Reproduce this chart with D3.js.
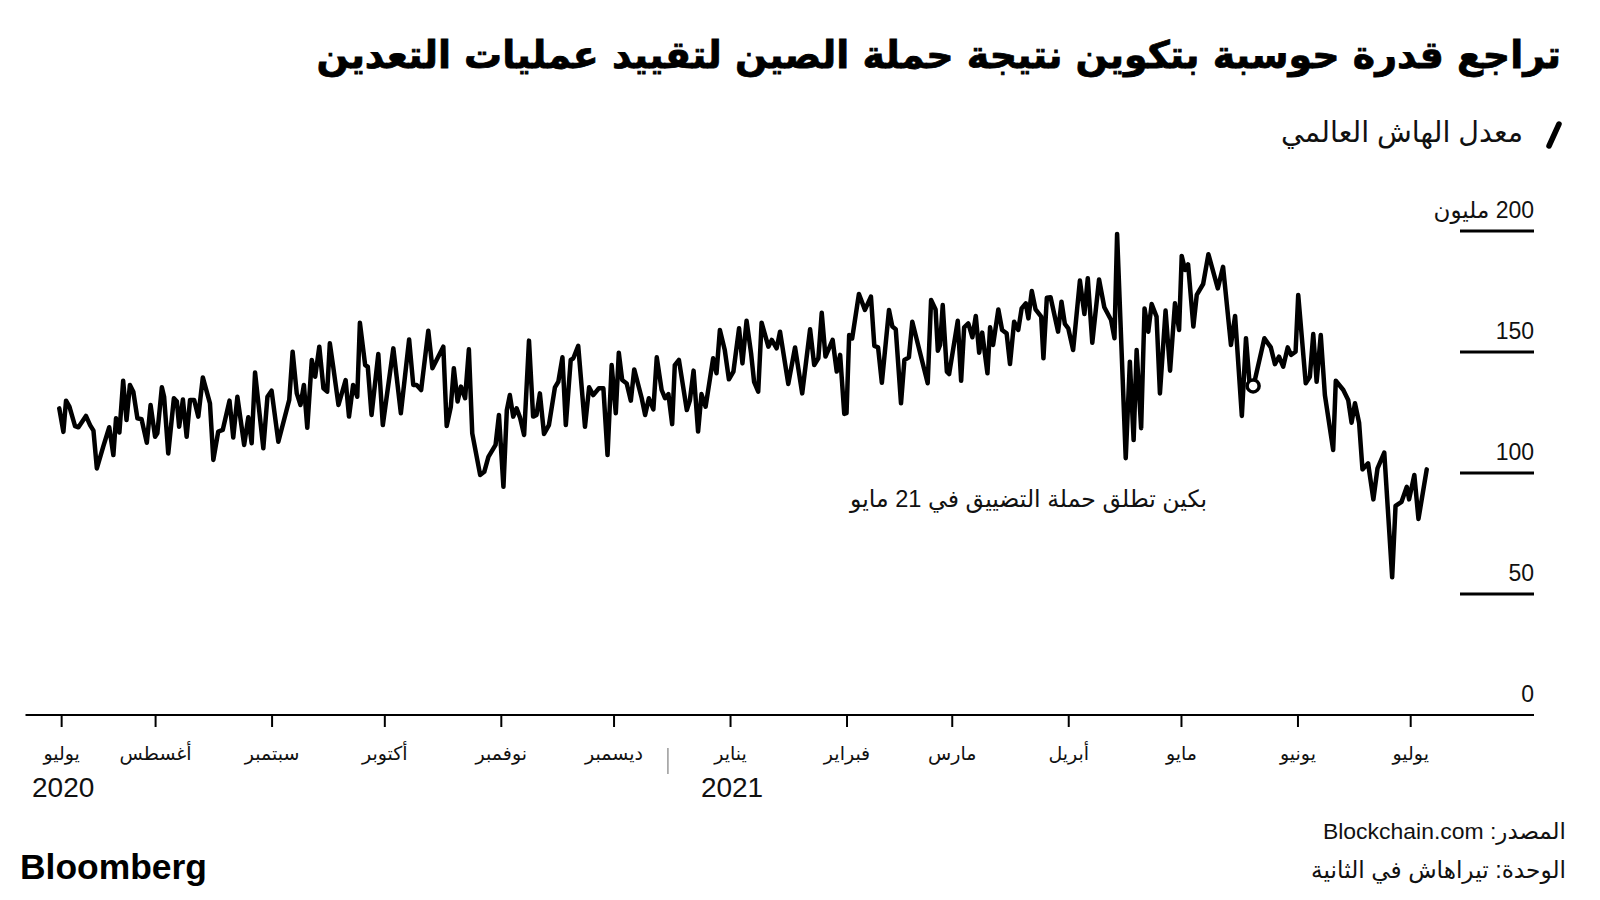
<!DOCTYPE html>
<html><head><meta charset="utf-8">
<script src="https://cdn.jsdelivr.net/npm/d3@7"></script>
<style>
body{margin:0;background:#fff;}
svg{display:block;}
text{font-family:"Liberation Sans","DejaVu Sans",sans-serif;fill:#1a1a1a;}
</style></head><body>
<svg id="c" width="1600" height="900"></svg>
<script>
// ---------- DATA ----------
const titleText = "تراجع قدرة حوسبة بتكوين نتيجة حملة الصين لتقييد عمليات التعدين";
const legendText = "معدل الهاش العالمي";
const sourceText = "المصدر: Blockchain.com";
const unitText = "الوحدة: تيراهاش في الثانية";
const annotationText = "بكين تطلق حملة التضييق في 21 مايو";
const annotationDate = "2021-05-21";
const annotationValue = 136;

const baseDate = "2020-07-01";
// days after baseDate and hash rate (million TH/s)
const dayOffsets = [
 5.5,6.6,7.3,8.2,9.7,10.6,12.6,13.7,14.6,15.5,17.2,18.8,19.9,20.6,21.5,22.5,23.4,24.3,25.2,26.3,
 27.4,28.8,29.8,31.0,31.6,32.8,33.4,34.5,36.0,36.8,37.4,38.4,39.4,40.3,41.4,42.5,43.7,45.6,46.5,47.8,
 49.0,50.8,51.8,52.9,54.7,55.8,56.7,57.6,59.8,60.9,62.0,63.8,66.7,67.6,68.7,69.7,70.6,71.5,72.7,73.6,
 74.7,75.8,76.8,
 77.5,78.4,79.8,81.7,82.6,83.7,84.8,85.5,86.9,87.6,88.6,90.4,91.6,94.4,96.4,98.6,99.7,100.6,101.8,103.7,
 104.8,107.7,108.6,109.7,110.5,111.5,112.4,113.5,114.5,115.4,117.5,118.6,119.7,121.6,122.5,123.7,124.6,125.4,126.3,127.2,
 128.1,129.2,130.5,131.6,132.5,133.4,134.5,135.8,137.4,138.3,139.4,140.3,141.6,142.3,143.6,145.4,146.5,147.6,149.1,150.3,
 151.4,152.5,153.6,154.4,155.3,156.5,157.6,158.5,160.5,161.4,162.4,163.6,164.5,165.8,166.7,167.6,168.6,169.3,170.4,172.5,
 173.3,174.3,175.5,176.4,177.5,179.5,180.4,181.3,182.6,183.7,184.9,186.4,187.3,188.4,189.6,190.4,191.5,192.4,194.2,195.1,
 196.4,197.3,199.5,201.3,203.2,205.3,206.4,207.5,208.4,209.4,211.3,212.4,213.3,214.4,215.0,215.7,216.5,218.3,219.9,221.5,
 222.4,223.4,224.4,226.3,227.2,228.1,229.5,230.4,231.6,232.5,234.5,236.6,237.5,238.7,239.3,239.9,240.6,241.7,242.3,244.6,
 245.5,246.3,247.4,248.5,249.4,250.3,251.1,252.5,253.2,254.0,255.4,256.4,257.6,258.5,259.6,260.7,261.6,262.7,263.4,264.3,
 265.3,266.8,267.4,268.3,269.3,271.3,272.2,273.1,274.0,275.3,277.1,278.3,279.2,280.4,282.2,283.6,285.4,286.3,287.0,289.3,
 290.4,291.4,292.2,293.4,
 294.3,295.3,296.2,297.5,298.4,299.9,301.1,302.4,303.5,304.2,305.1,305.9,307.3,308.2,309.9,311.3,313.8,315.2,317.3,318.4,
 320.2,321.3,322.2,323.3,326.2,327.9,329.0,330.1,331.2,332.4,333.3,334.5,335.2,337.2,338.3,339.2,340.1,341.2,342.3,344.5,
 345.2,347.2,348.5,349.4,350.3,351.4,352.3,353.8,355.2,356.3,358.1,360.2,361.1,362.7,364.1,364.7,366.1,367.2,369.4
];
const hashRate = [
 126.7,117,129.9,127.4,119.4,118.9,123.6,119.8,117.5,101.9,110.9,118.9,107.4,122.6,116.7,138.1,121.9,136.4,133.6,122.6,
 122.2,112.5,128.1,115,116.4,135.4,131.5,108.1,130.9,129.5,119.1,130.4,115,130.2,130.2,123.3,139.5,128.8,105.4,117.1,
 117.8,129.9,114.7,131.5,111.6,123,112.3,141.5,110.2,131.5,134,112.9,130.2,150.1,132.9,128.1,136.4,118.7,146.7,139.8,
 152.2,135,133.6,
 153.6,143.9,128.1,138.4,123.3,136.4,131.5,162.1,144.6,143.9,124,149.2,119.8,151.5,124.7,155.2,136.4,136.4,134.3,158.8,
 143.3,152.2,119.4,127.4,143.3,129.5,135.7,130.9,151.1,116.4,99.2,100.5,106.7,111.6,124,94.3,126,132.2,123.3,126.7,
 123,115.7,154.7,123.3,124,132.9,116.1,119.8,135.4,137.7,147.8,119.8,146.7,147.4,152.5,119.1,135.4,132.2,135,135,
 107.4,144.6,124.7,149.7,138.4,137,129.9,142.8,130.9,124,130.9,126.3,147.8,134.3,130.9,132.6,120.2,144.6,146.7,126,
 129.9,142.3,117.1,132.6,127.4,147.4,141.2,159.1,150.8,138.7,141.9,159.8,145.3,162.9,149.5,137.7,133.6,162.1,152.2,155,
 151.5,158.4,136.8,151.9,132.9,159.4,144.6,147.4,166.2,148.1,155,141.9,148.8,124.4,124.7,157,155.6,174,167.4,172.9,
 152.5,151.9,137.3,167.4,160.5,159.4,128.8,146.7,147.8,162.5,150.1,137.1,171.5,167.6,150.5,152.9,169.4,141.9,140.9,162.9,
 138.1,160.2,161.8,156.1,164.9,149.7,158,141.2,160.2,152.9,167.6,159.1,157.7,145,162.5,159.1,168,170.1,163.9,175.2,
 167.6,164.6,147.4,172.4,172.6,158.4,170.8,161.6,159.8,150.8,179.5,165.7,180.5,153.8,180,168.5,163.2,155.7,198.8,106.1,
 146,113.6,150.8,118.5,
 168,158.4,169.8,164.6,132.9,167.1,142.3,170.1,159.1,189.7,183.9,186.2,160.5,173.6,178.1,190.4,176.3,185.2,152.9,164.9,
 123.6,155.7,138,136,155.7,151.9,145,148.1,143.9,151.9,148.8,150.1,173.6,137.1,139.8,157.4,137.7,157,132.2,109.5,
 138.1,134.3,130.2,120.8,128.8,120.8,101.5,104,89.1,101.9,108.4,56.9,86.4,88.1,94.3,89.1,99.2,81,101.5
];

const tickDates = ["2020-07-07","2020-08-01","2020-09-01","2020-10-01","2020-11-01","2020-12-01",
  "2021-01-01","2021-02-01","2021-03-01","2021-04-01","2021-05-01","2021-06-01","2021-07-01"];
const monthLabels = ["يوليو","أغسطس","سبتمبر","أكتوبر","نوفمبر","ديسمبر",
  "يناير","فبراير","مارس","أبريل","مايو","يونيو","يوليو"];
const yearDates = ["2020-07-07","2021-01-01"];
const yearLabels = ["2020","2021"];
const yearSeparatorDate = "2020-12-16";
const yTicks = [0,50,100,150,200];
const yTickLabels = ["0","50","100","150","200 مليون"];

// ---------- CHART ----------
const svg = d3.select("#c");
const parse = d3.utcParse("%Y-%m-%d");
const base = parse(baseDate);
const x = d3.scaleUtc().domain([parse("2020-07-01"), parse("2021-07-01")]).range([38.6, 1410.2]);
const y = d3.scaleLinear().domain([0, 200]).range([715, 231]);

const series = dayOffsets.map((d, i) => ({date: new Date(+base + d * 864e5), value: hashRate[i]}));

function fit(sel, target) {
  const w = sel.node().getComputedTextLength();
  const fs = parseFloat(sel.attr("font-size"));
  if (w > 0) sel.attr("font-size", (fs * target / w).toFixed(2));
}

// title
const title = svg.append("text").attr("x", 1561).attr("y", 68)
  .attr("direction", "rtl").attr("text-anchor", "start")
  .attr("font-size", 44).attr("font-weight", "bold")
  .style("font-family", "'DejaVu Sans',sans-serif").style("fill", "#000")
  .style("stroke", "#000").style("stroke-width", 0.8)
  .text(titleText);
fit(title, 1245);

// legend
svg.append("line").attr("x1", 1549).attr("y1", 146).attr("x2", 1559).attr("y2", 124)
  .attr("stroke", "#000").attr("stroke-width", 5.5).attr("stroke-linecap", "round");
const leg = svg.append("text").attr("x", 1523).attr("y", 142)
  .attr("direction", "rtl").attr("text-anchor", "start")
  .attr("font-size", 24).style("fill", "#111").text(legendText);
fit(leg, 242);

// y grid + labels
const gy = svg.append("g");
gy.selectAll("line.grid").data(yTicks.filter(v => v > 0)).join("line")
  .attr("class", "grid")
  .attr("x1", 1460).attr("x2", 1534)
  .attr("y1", d => y(d)).attr("y2", d => y(d))
  .attr("stroke", "#000").attr("stroke-width", 3);
gy.selectAll("text").data(yTicks).join("text")
  .attr("x", 1534).attr("y", d => y(d) - 13)
  .attr("direction", "rtl").attr("text-anchor", "start")
  .attr("font-size", 23).style("fill", "#111")
  .text((d, i) => yTickLabels[i]);

// baseline (zero line)
svg.append("line").attr("x1", 25.5).attr("x2", 1534).attr("y1", y(0)).attr("y2", y(0))
  .attr("stroke", "#000").attr("stroke-width", 2);

// x axis
const xAxis = d3.axisBottom(x)
  .tickValues(tickDates.map(parse))
  .tickFormat((d, i) => monthLabels[i])
  .tickSize(12).tickSizeOuter(0);
const gx = svg.append("g").attr("transform", `translate(0,${y(0)})`).call(xAxis);
gx.select(".domain").remove();
gx.selectAll(".tick line").attr("stroke", "#000").attr("stroke-width", 2);
gx.selectAll(".tick text").attr("y", 45).attr("dy", 0)
  .attr("direction", "rtl")
  .attr("font-size", 19).style("font-family", "'Liberation Sans','DejaVu Sans',sans-serif")
  .style("fill", "#111");

// year labels
svg.selectAll("text.year").data(yearDates).join("text").attr("class", "year")
  .attr("x", d => x(parse(d)) + 2).attr("y", 797)
  .attr("text-anchor", "middle").attr("font-size", 28).style("fill", "#111")
  .text((d, i) => yearLabels[i]);
svg.append("line")
  .attr("x1", x(parse(yearSeparatorDate)) - 2).attr("x2", x(parse(yearSeparatorDate)) - 2)
  .attr("y1", 748).attr("y2", 774).attr("stroke", "#999").attr("stroke-width", 1.5);

// the line
const line = d3.line().x(d => x(d.date)).y(d => y(d.value));
svg.append("path").datum(series).attr("d", line)
  .attr("fill", "none").attr("stroke", "#000").attr("stroke-width", 4.5)
  .attr("stroke-linejoin", "round").attr("stroke-linecap", "round");

// annotation
svg.append("circle").attr("cx", x(parse(annotationDate)) - 3).attr("cy", y(annotationValue))
  .attr("r", 6).attr("fill", "#fff").attr("stroke", "#000").attr("stroke-width", 3.5);
const ann = svg.append("text").attr("x", 1207).attr("y", 507)
  .attr("direction", "rtl").attr("text-anchor", "start")
  .attr("font-size", 21).style("fill", "#111").text(annotationText);
fit(ann, 357);

// footer
const src = svg.append("text").attr("x", 1566).attr("y", 839)
  .attr("direction", "rtl").attr("text-anchor", "start")
  .attr("font-size", 24).style("fill", "#111").text(sourceText);
fit(src, 243);
const unit = svg.append("text").attr("x", 1566).attr("y", 878)
  .attr("direction", "rtl").attr("text-anchor", "start")
  .attr("font-size", 24).style("fill", "#111").text(unitText);
fit(unit, 255);

const logo = svg.append("text").attr("x", 20).attr("y", 879)
  .attr("font-size", 35).attr("font-weight", "bold")
  .style("fill", "#000").text("Bloomberg");
fit(logo, 187);
</script>
</body></html>
